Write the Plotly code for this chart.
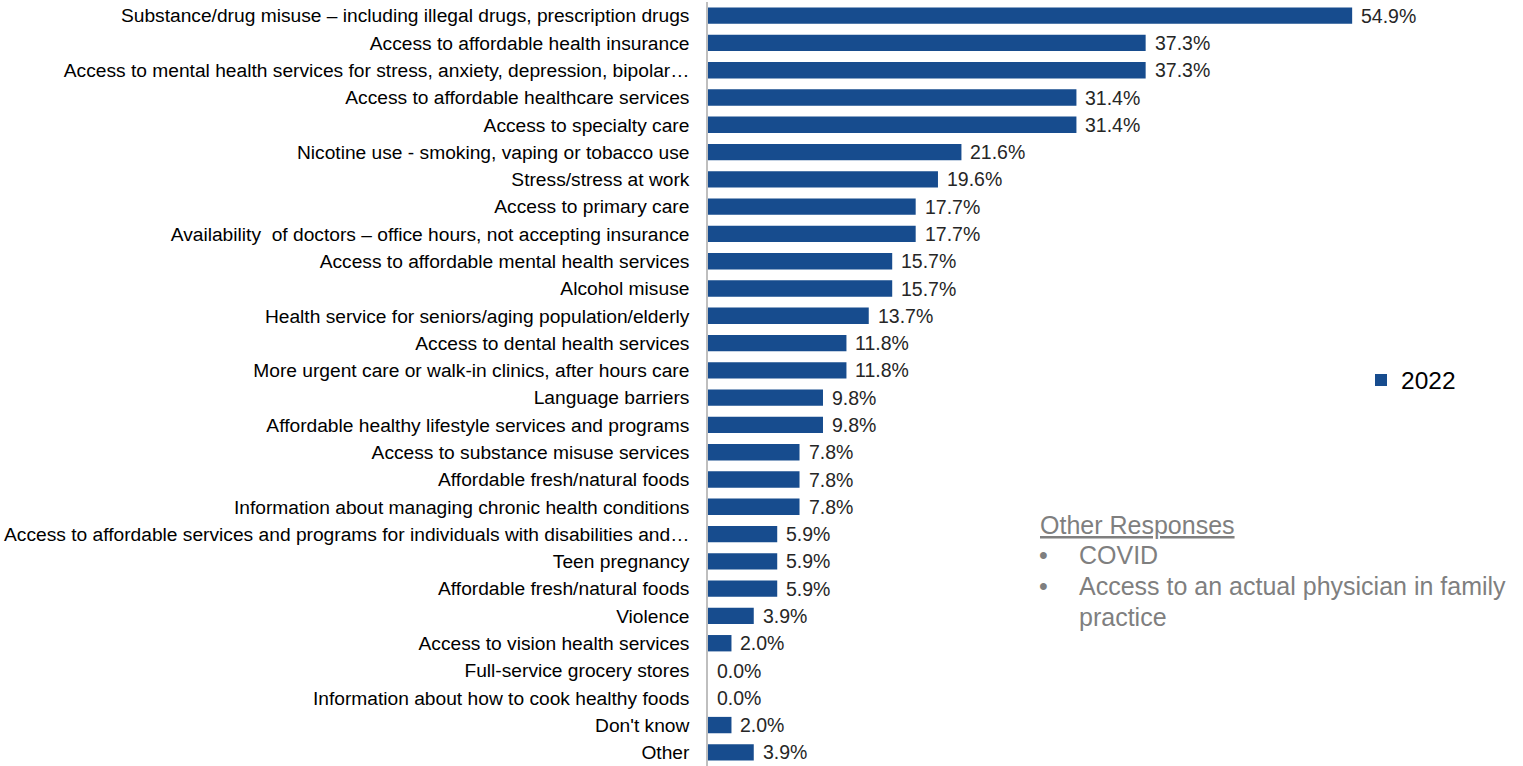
import plotly.graph_objects as go

categories = [
    "Substance/drug misuse – including illegal drugs, prescription drugs",
    "Access to affordable health insurance",
    "Access to mental health services for stress, anxiety, depression, bipolar…",
    "Access to affordable healthcare services",
    "Access to specialty care",
    "Nicotine use - smoking, vaping or tobacco use",
    "Stress/stress at work",
    "Access to primary care",
    "Availability  of doctors – office hours, not accepting insurance",
    "Access to affordable mental health services",
    "Alcohol misuse",
    "Health service for seniors/aging population/elderly",
    "Access to dental health services",
    "More urgent care or walk-in clinics, after hours care",
    "Language barriers",
    "Affordable healthy lifestyle services and programs",
    "Access to substance misuse services",
    "Affordable fresh/natural foods",
    "Information about managing chronic health conditions",
    "Access to affordable services and programs for individuals with disabilities and…",
    "Teen pregnancy",
    "Affordable fresh/natural foods",
    "Violence",
    "Access to vision health services",
    "Full-service grocery stores",
    "Information about how to cook healthy foods",
    "Don't know",
    "Other",
]
values = [54.9, 37.3, 37.3, 31.4, 31.4, 21.6, 19.6, 17.7, 17.7, 15.7, 15.7, 13.7,
          11.8, 11.8, 9.8, 9.8, 7.8, 7.8, 7.8, 5.9, 5.9, 5.9, 3.9, 2.0, 0.0, 0.0, 2.0, 3.9]
series_name = "2022"
other_title = "Other Responses"
other_items = ["COVID", "Access to an actual physician in family", "practice"]

BAR = "#174C8E"
FONT = "Liberation Sans, Arial, sans-serif"
LBL = 19.2

positions = list(range(len(categories)))

fig = go.Figure()
fig.add_trace(go.Bar(
    y=positions, x=values, orientation="h", name=series_name,
    marker=dict(color=BAR, line=dict(width=0)),
    width=0.6,
    showlegend=True,
))

for p, v in zip(positions, values):
    fig.add_annotation(x=v, y=p, xref="x", yref="y", text=f"{v:.1f}%",
                       showarrow=False, xanchor="left", xshift=7,
                       font=dict(family=FONT, size=19.5, color="#262626"))

top, height = 2, 764
L, W = 708, 704


def px_x(p):
    return (p - L) / W


def px_y(p):
    return 1 - (p - top) / height


fig.add_annotation(x=px_x(1038), y=px_y(525), xref="paper", yref="paper",
                   text=f"<u>{other_title}</u>", showarrow=False, xanchor="left",
                   yanchor="middle", font=dict(family=FONT, size=25, color="#7F7F7F"))
ys = [555, 586, 617]
for i, (t, yy) in enumerate(zip(other_items, ys)):
    if i < 2:
        fig.add_annotation(x=px_x(1037), y=px_y(yy), xref="paper", yref="paper", text="•",
                           showarrow=False, xanchor="left", yanchor="middle",
                           font=dict(family=FONT, size=25, color="#7F7F7F"))
    fig.add_annotation(x=px_x(1077), y=px_y(yy), xref="paper", yref="paper", text=t,
                       showarrow=False, xanchor="left", yanchor="middle",
                       font=dict(family=FONT, size=25, color="#7F7F7F"))

fig.update_layout(
    width=1523, height=766,
    margin=dict(l=L, r=1523 - L - W, t=top, b=0),
    paper_bgcolor="white", plot_bgcolor="white",
    bargap=0.4,
    font=dict(family=FONT, size=LBL, color="#000000"),
    legend=dict(x=px_x(1361), y=px_y(380), xanchor="left", yanchor="middle",
                font=dict(family=FONT, size=24.5, color="#000000"),
                bgcolor="rgba(0,0,0,0)", itemwidth=30, tracegroupgap=0),
    xaxis=dict(range=[0, 60], visible=False, showgrid=False, zeroline=False, automargin=False),
    yaxis=dict(autorange="reversed", showline=True, linecolor="#BFBFBF", linewidth=1.5,
               tickmode="array", tickvals=positions, ticktext=categories,
               ticks="", showgrid=False, ticklabelstandoff=13, automargin=False,
               range=[len(categories) - 0.5, -0.5],
               tickfont=dict(family=FONT, size=LBL, color="#000000")),
)

fig.write_html("out.html", config={"displayModeBar": False},
               post_script="document.body.style.margin='0';document.body.style.padding='0';")
